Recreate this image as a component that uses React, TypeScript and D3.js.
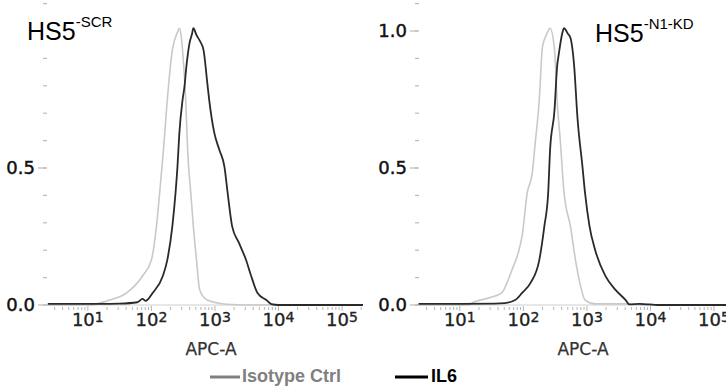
import * as d3 from 'd3';

// histogram points: [log10(APC-A), normalized count]
const ISO_SCR: [number, number][] = [
  [0.31, 0], [1.03, 0], [1.3, 0.015], [1.61, 0.044], [1.86, 0.106], [2.0, 0.164],
  [2.08, 0.288], [2.13, 0.409], [2.19, 0.566], [2.25, 0.748], [2.33, 0.931], [2.41, 0.995],
  [2.44, 1.01], [2.47, 0.98], [2.49, 0.931], [2.54, 0.748], [2.57, 0.566], [2.62, 0.409],
  [2.66, 0.288], [2.71, 0.164], [2.76, 0.055], [2.88, 0.018], [3.18, 0.003], [3.5, 0], [5.33, 0],
];
const IL6_SCR: [number, number][] = [
  [0.37, 0.004], [1.19, 0.004], [1.5, 0.005], [1.78, 0.01], [1.86, 0.022], [1.91, 0.015],
  [2.02, 0.044], [2.18, 0.106], [2.25, 0.164], [2.33, 0.288], [2.38, 0.409], [2.41, 0.504],
  [2.44, 0.628], [2.49, 0.748], [2.52, 0.796], [2.55, 0.869], [2.6, 0.956], [2.64, 0.99],
  [2.66, 1.01], [2.71, 0.985], [2.76, 0.965], [2.82, 0.931], [2.88, 0.81], [2.91, 0.748],
  [2.99, 0.628], [3.07, 0.566], [3.15, 0.504], [3.2, 0.409], [3.27, 0.288], [3.38, 0.226],
  [3.49, 0.164], [3.57, 0.106], [3.67, 0.044], [3.81, 0.018], [3.89, 0.003], [4.0, 0], [5.33, 0],
];
const ISO_KD: [number, number][] = [
  [0.35, 0], [1.14, 0], [1.19, 0.007], [1.46, 0.026], [1.66, 0.044], [1.74, 0.08],
  [1.82, 0.128], [1.93, 0.2], [1.98, 0.252], [2.06, 0.409], [2.14, 0.482], [2.18, 0.577],
  [2.25, 0.748], [2.3, 0.942], [2.37, 0.99], [2.42, 1.01], [2.49, 0.931], [2.53, 0.748],
  [2.58, 0.602], [2.64, 0.409], [2.74, 0.288], [2.82, 0.164], [2.9, 0.069], [2.97, 0.018],
  [3.13, 0.004], [3.6, 0.004], [3.9, 0], [5.33, 0],
];
const IL6_KD: [number, number][] = [
  [0.35, 0.004], [1.0, 0.004], [1.55, 0.005], [1.71, 0.007], [1.87, 0.018], [1.98, 0.044],
  [2.11, 0.08], [2.25, 0.164], [2.33, 0.288], [2.39, 0.409], [2.42, 0.566], [2.49, 0.712],
  [2.53, 0.869], [2.56, 0.92], [2.61, 0.99], [2.64, 1.01], [2.7, 0.99], [2.74, 0.975],
  [2.8, 0.869], [2.85, 0.686], [2.93, 0.504], [2.97, 0.409], [3.04, 0.288], [3.13, 0.2],
  [3.29, 0.106], [3.45, 0.055], [3.61, 0.018], [3.67, 0.002], [3.83, 0.004], [3.99, 0.002],
  [4.1, 0], [5.33, 0],
];

const X_DECADES = [1, 2, 3, 4, 5];
const Y_LABELS = [0, 0.5, 1.0];
const Y_MINOR = [0, 0.1, 0.2, 0.3, 0.4, 0.5, 0.6, 0.7, 0.8, 0.9, 1.0, 1.1];

const PANELS = [
  { title: 'HS5', sup: '-SCR', iso: ISO_SCR, il6: IL6_SCR, dx: 0, showTop: false, titleX: 27, titleY: 40 },
  { title: 'HS5', sup: '-N1-KD', iso: ISO_KD, il6: IL6_KD, dx: 372, showTop: true, titleX: 595, titleY: 42 },
];

const tickFont = '"DejaVu Sans", Verdana, sans-serif';
const labelFont = '"Liberation Sans", Arial, sans-serif';

function Panel({ p }: { p: (typeof PANELS)[number] }) {
  const x = d3.scaleLog().domain([10 ** 0.31, 10 ** 5.33]).range([44 + p.dx, 363 + p.dx]);
  const y = d3.scaleLinear().domain([0, 1]).range([305, 31]);
  const line = d3
    .line<[number, number]>()
    .x((d) => x(10 ** d[0]))
    .y((d) => y(d[1]))
    .curve(d3.curveMonotoneX);

  const minor: number[] = [];
  for (let e = 0; e <= 5; e++) {
    for (let m = 2; m <= 9; m++) {
      const v = m * 10 ** e;
      if (v >= 10 ** 0.31 && v <= 10 ** 5.33) minor.push(v);
    }
  }
  const [x0, x1] = x.range();

  return (
    <g>
      {/* x axis */}
      <line x1={x0} x2={x1} y1={y(0)} y2={y(0)} stroke="#cfcfcf" strokeWidth={1} />
      {minor.map((v) => (
        <line key={v} x1={x(v)} x2={x(v)} y1={y(0) + 2} y2={y(0) + 5} stroke="#b5b5b5" strokeWidth={1} />
      ))}
      {X_DECADES.map((e) => (
        <g key={e}>
          <line x1={x(10 ** e)} x2={x(10 ** e)} y1={y(0) + 1} y2={y(0) + 6} stroke="#b5b5b5" strokeWidth={1} />
          <text
            x={x(10 ** e)}
            y={326}
            textAnchor="middle"
            fontFamily={tickFont}
            fontSize={18}
            fill="#222"
            stroke="#222"
            strokeWidth={0.35}
          >
            10<tspan fontSize={14} dy={-4}>{e}</tspan>
          </text>
        </g>
      ))}
      <text
        x={211 + p.dx}
        y={355}
        textAnchor="middle"
        fontFamily={tickFont}
        fontSize={17}
        fill="#333"
        stroke="#333"
        strokeWidth={0.25}
      >
        APC-A
      </text>

      {/* y axis */}
      {Y_MINOR.map((v) => (
        <line key={v} x1={x0 - 1} x2={x0 + 3} y1={y(v)} y2={y(v)} stroke="#bbb" strokeWidth={1.2} />
      ))}
      {Y_LABELS.filter((v) => p.showTop || v < 1).map((v) => (
        <g key={v}>
          <line x1={x0 - 6} x2={x0 + 2} y1={y(v)} y2={y(v)} stroke="#bbb" strokeWidth={1.2} />
          <text
            x={x0 - 9}
            y={y(v)}
            dy="0.35em"
            textAnchor="end"
            fontFamily={tickFont}
            fontSize={18}
            fill="#111"
            stroke="#111"
            strokeWidth={0.45}
          >
            {v.toFixed(1)}
          </text>
        </g>
      ))}

      {/* histograms */}
      <path d={line(p.iso) ?? ''} fill="none" stroke="#c9c9c9" strokeWidth={1.6} />
      <path d={line(p.il6) ?? ''} fill="none" stroke="#2a2a2a" strokeWidth={1.8} />

      {/* panel title */}
      {!p.showTop && <rect x={0} y={12} width={122} height={34} fill="#fff" />}
      <text x={p.titleX} y={p.titleY} fontFamily={labelFont} fontSize={25} fill="#000">
        {p.title}
        <tspan fontSize={15} dy={-13}>{p.sup}</tspan>
      </text>
    </g>
  );
}

export default function App() {
  return (
    <svg
      width={726}
      height={386}
      viewBox="0 0 726 386"
      style={{ position: 'absolute', left: 0, top: 0, background: '#fff' }}
    >
      <rect width={726} height={386} fill="#fff" />
      {PANELS.map((p) => (
        <Panel key={p.sup} p={p} />
      ))}

      {/* legend */}
      <line x1={210} x2={240} y1={377} y2={377} stroke="#808080" strokeWidth={3} />
      <text x={242} y={382} fontFamily={labelFont} fontWeight="bold" fontSize={18} fill="#808080">
        Isotype Ctrl
      </text>
      <line x1={395} x2={428} y1={377} y2={377} stroke="#000" strokeWidth={3} />
      <text x={431} y={382} fontFamily={labelFont} fontWeight="bold" fontSize={18} fill="#000">
        IL6
      </text>
    </svg>
  );
}
